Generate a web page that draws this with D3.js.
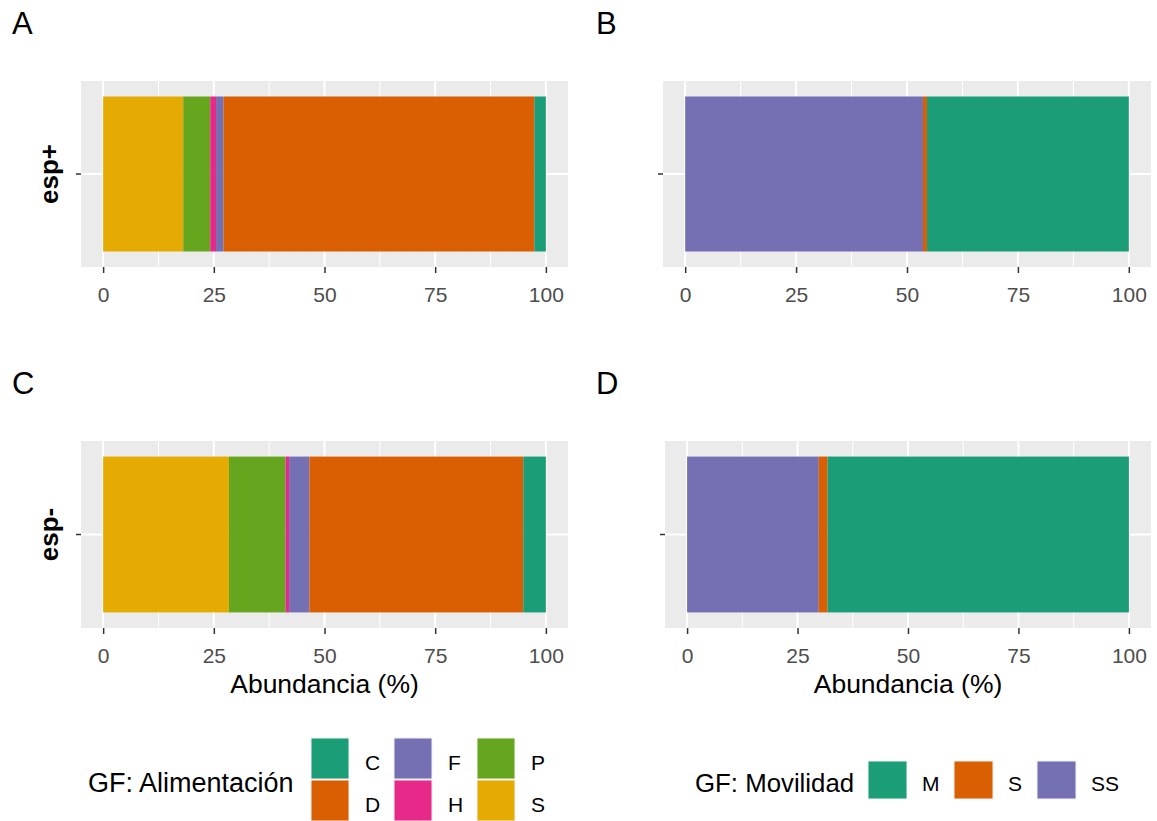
<!DOCTYPE html>
<html>
<head>
<meta charset="utf-8">
<script src="https://cdn.jsdelivr.net/npm/d3@7"></script>
<style>
  body { margin: 0; background: #fff; }
  svg text { font-family: "Liberation Sans", Arial, sans-serif; }
</style>
</head>
<body>
<svg id="chart"></svg>
<script>
// feeding guilds (legend order) and the stacking order left -> right
const feedCats = ["C", "D", "F", "H", "P", "S"];
const feedStack = ["S", "P", "H", "F", "D", "C"];
const feedColors = ["#1B9E77", "#D95F02", "#7570B3", "#E7298A", "#66A61E", "#E6AB02"];
const feedEspPlus = [2.6, 70.2, 1.7, 1.3, 6.1, 18.1];
const feedEspMinus = [5.1, 48.3, 4.6, 0.8, 12.8, 28.4];

// mobility guilds
const mobCats = ["M", "S", "SS"];
const mobStack = ["SS", "S", "M"];
const mobColors = ["#1B9E77", "#D95F02", "#7570B3"];
const mobEspPlus = [45.5, 0.9, 53.6];
const mobEspMinus = [68.2, 2.0, 29.8];

const xTicks = [0, 25, 50, 75, 100];
const xMinor = [12.5, 37.5, 62.5, 87.5];

const W = 1157, H = 821;
const svg = d3.select("#chart").attr("width", W).attr("height", H);

// panel boxes
const panels = [
  {tag: "A", x0: 81, x1: 568, y0: 81, y1: 267, group: "esp+", cats: feedCats, stack: feedStack, colors: feedColors, vals: feedEspPlus, ytitle: true, xtitle: false},
  {tag: "B", x0: 663, x1: 1151, y0: 81, y1: 267, group: "esp+", cats: mobCats, stack: mobStack, colors: mobColors, vals: mobEspPlus, ytitle: false, xtitle: false},
  {tag: "C", x0: 81, x1: 568, y0: 441, y1: 628, group: "esp-", cats: feedCats, stack: feedStack, colors: feedColors, vals: feedEspMinus, ytitle: true, xtitle: true},
  {tag: "D", x0: 665, x1: 1151, y0: 441, y1: 628, group: "esp-", cats: mobCats, stack: mobStack, colors: mobColors, vals: mobEspMinus, ytitle: false, xtitle: true}
];

panels.forEach(p => {
  const g = svg.append("g");
  const row = {group: p.group};
  p.cats.forEach((c, i) => row[c] = p.vals[i]);
  const series = d3.stack().keys(p.stack)([row]);
  const color = d3.scaleOrdinal().domain(p.cats).range(p.colors);

  const x = d3.scaleLinear().domain([-5, 105]).range([p.x0, p.x1]);
  const y = d3.scaleBand().domain([p.group]).range([p.y0, p.y1])
    .paddingInner(0).paddingOuter(0.1);

  // background + grid
  g.append("rect").attr("x", p.x0).attr("y", p.y0)
    .attr("width", p.x1 - p.x0).attr("height", p.y1 - p.y0).attr("fill", "#EBEBEB");
  g.selectAll(".minor").data(xMinor).enter().append("line")
    .attr("x1", d => x(d)).attr("x2", d => x(d)).attr("y1", p.y0).attr("y2", p.y1)
    .attr("stroke", "#fff").attr("stroke-width", 1);
  g.selectAll(".major").data(xTicks).enter().append("line")
    .attr("x1", d => x(d)).attr("x2", d => x(d)).attr("y1", p.y0).attr("y2", p.y1)
    .attr("stroke", "#fff").attr("stroke-width", 2);
  g.append("line")
    .attr("x1", p.x0).attr("x2", p.x1)
    .attr("y1", y(p.group) + y.bandwidth() / 2).attr("y2", y(p.group) + y.bandwidth() / 2)
    .attr("stroke", "#fff").attr("stroke-width", 2);

  // stacked bar
  g.selectAll(".seg").data(series).enter().append("rect")
    .attr("x", d => x(d[0][0]))
    .attr("width", d => x(d[0][1]) - x(d[0][0]))
    .attr("y", y(p.group))
    .attr("height", y.bandwidth())
    .attr("fill", d => color(d.key));

  // axes
  const xAxis = g.append("g").attr("transform", `translate(0,${p.y1})`)
    .call(d3.axisBottom(x).tickValues(xTicks).tickSize(6).tickFormat(d3.format("d")));
  xAxis.select(".domain").remove();
  xAxis.selectAll("line").attr("stroke", "#333").attr("stroke-width", 1.5);
  xAxis.selectAll("text").attr("y", 35).attr("dy", 0)
    .attr("fill", "#4D4D4D").style("font-size", "21px");

  const yAxis = g.append("g").attr("transform", `translate(${p.x0},0)`)
    .call(d3.axisLeft(y).tickSize(5).tickFormat(""));
  yAxis.select(".domain").remove();
  yAxis.selectAll("line").attr("stroke", "#333").attr("stroke-width", 1.5);

  if (p.ytitle) {
    g.append("text")
      .attr("transform", `translate(58,${(p.y0 + p.y1) / 2}) rotate(-90)`)
      .attr("text-anchor", "middle")
      .style("font-size", "26px").style("font-weight", "bold")
      .text(p.group);
  }
  if (p.xtitle) {
    g.append("text")
      .attr("x", (p.x0 + p.x1) / 2).attr("y", 693)
      .attr("text-anchor", "middle")
      .style("font-size", "26.5px").attr("fill", "#000")
      .text("Abundancia (%)");
  }

  svg.append("text")
    .attr("x", p.tag === "A" || p.tag === "C" ? 12 : 596)
    .attr("y", p.y0 - 47)
    .style("font-size", "31px")
    .text(p.tag);
});

// legend: feeding (3 columns x 2 rows, filled by column)
const leg1 = svg.append("g");
leg1.append("text").attr("x", 88).attr("y", 792)
  .style("font-size", "27px").text("GF: Alimentación");
const feedColor = d3.scaleOrdinal().domain(feedCats).range(feedColors);
const colX = [311, 394, 477];
feedCats.forEach((c, i) => {
  const col = Math.floor(i / 2), r = i % 2;
  const kx = colX[col], ky = 738 + r * 42;
  leg1.append("rect").attr("x", kx).attr("y", ky).attr("width", 38).attr("height", 41)
    .attr("fill", feedColor(c)).attr("stroke", "#F2F2F2").attr("stroke-width", 1);
  leg1.append("text").attr("x", kx + 54).attr("y", ky + 32)
    .style("font-size", "21px").text(c);
});

// legend: mobility (one row)
const leg2 = svg.append("g");
leg2.append("text").attr("x", 695).attr("y", 792)
  .style("font-size", "25.8px").text("GF: Movilidad");
const mobColor = d3.scaleOrdinal().domain(mobCats).range(mobColors);
const keyX = [868, 954, 1037];
mobCats.forEach((c, i) => {
  leg2.append("rect").attr("x", keyX[i]).attr("y", 761).attr("width", 39).attr("height", 38)
    .attr("fill", mobColor(c)).attr("stroke", "#F2F2F2").attr("stroke-width", 1);
  leg2.append("text").attr("x", keyX[i] + 54).attr("y", 791)
    .style("font-size", "21px").text(c);
});
</script>
</body>
</html>
